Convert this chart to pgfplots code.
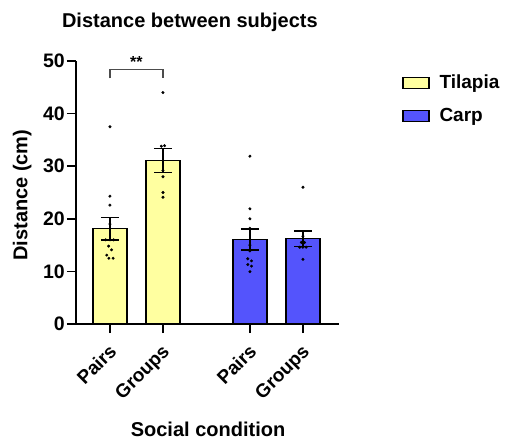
\documentclass[border=0pt]{standalone}
\usepackage{pgfplots}
\pgfplotsset{compat=1.18}
\usepackage{fontspec}
\setmainfont{Liberation Sans}
\definecolor{tilapia}{RGB}{255,255,160}
\definecolor{carp}{RGB}{84,84,252}
\begin{document}
\begin{tikzpicture}
\path[use as bounding box] (0,0) rectangle (507bp,441bp);
\begin{axis}[
  at={(76bp,117bp)}, anchor=south west,
  scale only axis, width=263bp, height=263bp,
  xmin=-0.64, xmax=4.32, ymin=0, ymax=50,
  clip=false,
  axis x line*=bottom, axis y line*=left,
  axis line style={line width=1.6bp, -},
  tick align=outside, major tick length=9bp,
  tick style={line width=1.6bp, black},
  ytick={0,10,20,30,40,50},
  xtick={0,1,2.64,3.64},
  xticklabels={Pairs,Groups,Pairs,Groups},
  /pgf/number format/assume math mode=true,
  yticklabel style={font=\bfseries\fontsize{19.5bp}{19.5bp}\selectfont, inner sep=2bp},
  xticklabel style={font=\bfseries\fontsize{19bp}{19bp}\selectfont, yshift=-8.5bp, xshift=-2bp, rotate=45, anchor=north east, inner sep=1bp},
  ylabel={Distance (cm)},
  ylabel style={font=\bfseries\fontsize{20bp}{20bp}\selectfont, at={(axis description cs:-0.205,0.49)}, anchor=center},
  xlabel={Social condition},
  xlabel style={font=\bfseries\fontsize{20bp}{20bp}\selectfont, at={(axis description cs:0.502,-0.40)}, anchor=center},
  title={Distance between subjects},
  title style={font=\bfseries\fontsize{20bp}{20bp}\selectfont, at={(axis description cs:0.433,1.123)}, anchor=center},
  legend style={draw=none, fill=none, at={(axis description cs:1.24,0.955)}, anchor=north west,
    font=\bfseries\fontsize{19bp}{19bp}\selectfont, row sep=14bp, inner sep=0pt},
  legend cell align=left,
  legend image code/.code={\draw[#1, line width=1.2bp] (0bp,-5.5bp) rectangle (26bp,5.5bp);},
]
% bars
\addplot[ybar, bar width=0.64, bar shift=0pt, fill=tilapia, draw=black, line width=1.3bp]
  coordinates {(0,18.1) (1,31.1)};
\addlegendentry{\hspace{8bp}Tilapia}
\addplot[ybar, bar width=0.64, bar shift=0pt, fill=carp, draw=black, line width=1.3bp]
  coordinates {(2.64,16.1) (3.64,16.2)};
\addlegendentry{\hspace{8bp}Carp}
% individual points
\addplot[only marks, mark=*, mark size=1.3bp, black, forget plot] coordinates {
 (0,37.5) (0,24.3) (0,22.6) (0,19.0) (-0.08,16.0) (0,16.0) (0.07,16.0)
 (-0.025,14.8) (0.03,14.1) (-0.06,13.1) (-0.02,12.5) (0.06,12.5)
 (1,44.0) (0.97,33.8) (1.03,33.9) (1,29.2) (1,28.0) (1,25.0) (1,24.1)
 (2.64,31.9) (2.64,21.9) (2.64,20.0) (2.64,18.2) (2.64,15.0) (2.64,13.9)
 (2.60,12.4) (2.67,12.0) (2.60,11.3) (2.67,11.0) (2.64,9.95)
 (3.64,26.0) (3.64,16.7) (3.61,15.5) (3.67,15.5) (3.58,14.6) (3.64,14.6) (3.70,14.6) (3.64,12.3)
};
% error bars (mean +- SEM)
\addplot[draw=none, mark=*, mark size=0pt, black, forget plot,
  error bars/.cd, y dir=both, y explicit, error mark=|,
  error bar style={line width=1.5bp, black},
  error mark options={mark size=9bp, line width=1.5bp, black, draw=black}]
  table[x=x, y=y, y error=e] {
x y e
0 18.1 2.1
1 31.1 2.3
2.64 16.1 2.0
3.64 16.2 1.5
};
% significance bracket
\addplot[color={black!70}, line width=1.2bp, forget plot] coordinates {(0,46.7) (0,48.4) (1,48.4) (1,46.7)};
\node[font=\bfseries\fontsize{16bp}{16bp}\selectfont, anchor=south, inner sep=1bp] at (axis cs:0.5,48.6) {**};
\end{axis}
\end{tikzpicture}
\end{document}
